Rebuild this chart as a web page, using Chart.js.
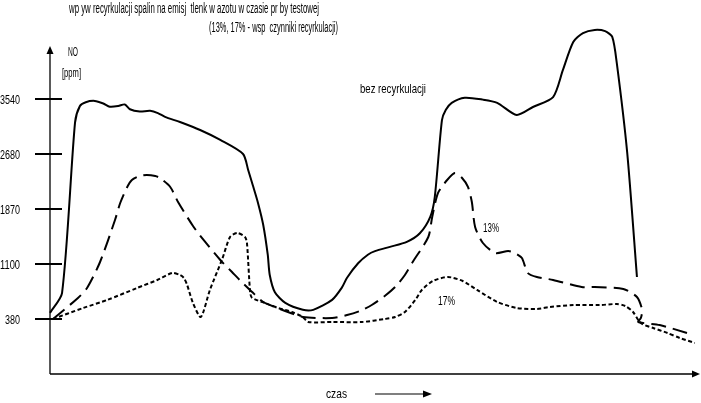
<!DOCTYPE html>
<html>
<head>
<meta charset="utf-8">
<script src="https://cdn.jsdelivr.net/npm/chart.js@4"></script>
<style>
  body { margin: 0; background: #fff; }
  #wrap { width: 701px; height: 403px; position: relative; }
</style>
</head>
<body>
<div id="wrap"><canvas id="noChart"></canvas></div>
<script>
// y axis ticks (NO, ppm) - evenly spaced on the sheet although values are not
const yTickValues = [380, 1100, 1870, 2680, 3540];
const yTickLabels = ['380', '1100', '1870', '2680', '3540'];

// "bez recyrkulacji" (no recirculation)
const timeNone = [0, 1.85, 3.85, 4.6, 5.5, 6.9, 8.2, 9.2, 10.5, 11.5, 12.3, 13.8, 15.4, 16.6, 17.7, 20, 23.1, 26.2, 29.7, 30.5, 31.2, 32, 32.8, 33.5, 33.8, 34.6, 36.2, 38.9, 40.5, 43.4, 44.9, 45.7, 47.4, 48.9, 50, 52.3, 54.9, 56.9, 58.5, 59.2, 60.3, 60.9, 61.8, 63.8, 66.6, 68.8, 71.8, 74.3, 77.4, 78.9, 80.5, 82, 83.8, 85.4, 86.5, 87.2, 88.8, 90.3];
const noNone = [460, 720, 3170, 3430, 3490, 3510, 3470, 3420, 3430, 3455, 3380, 3345, 3355, 3320, 3260, 3180, 3055, 2900, 2680, 2440, 2220, 1960, 1650, 1230, 960, 730, 590, 500, 500, 630, 790, 920, 1110, 1230, 1280, 1340, 1410, 1530, 1760, 2050, 3210, 3370, 3480, 3560, 3530, 3480, 3290, 3415, 3570, 3990, 4430, 4570, 4620, 4600, 4510, 4100, 2700, 930];

// 13% recirculation
const time13 = [0.46, 4.3, 5.7, 7.7, 10, 10.8, 11.8, 12.6, 13.8, 14.9, 16.2, 16.9, 18.5, 19.7, 22, 23.5, 26.2, 28, 29.2, 31.1, 32.8, 34.6, 36.6, 38.9, 43.4, 45.7, 47.7, 49.5, 51.5, 53.1, 54.6, 55.8, 58.2, 58.8, 59.7, 61.1, 62.3, 63.4, 64.3, 64.9, 65.4, 66.6, 68.5, 70.5, 71.5, 72.6, 73.5, 74.9, 77.4, 81.8, 83.8, 88.2, 90.3, 91.1, 90.9, 90.5, 93.8, 98];
const no13 = [380, 655, 786, 1128, 1716, 1958, 2179, 2297, 2356, 2371, 2356, 2327, 2194, 1973, 1632, 1450, 1156, 995, 890, 733, 603, 537, 472, 406, 393, 432, 485, 563, 681, 799, 956, 1128, 1478, 1758, 2106, 2297, 2400, 2327, 2194, 1973, 1618, 1394, 1254, 1282, 1254, 1184, 982, 930, 891, 799, 799, 773, 668, 498, 393, 341, 301, 197];

// 17% recirculation
const time17 = [0.46, 5.1, 8.8, 13.4, 16.5, 18.8, 20, 20.6, 21.1, 22, 23.2, 24.6, 26.5, 27.7, 28.8, 30, 30.3, 30.8, 31.1, 33.1, 35.1, 37.2, 38.9, 39.7, 43.4, 48, 51.5, 53.1, 54.6, 56.2, 57.2, 58.9, 61.2, 63.5, 65.7, 68.8, 71.8, 74.9, 76.9, 80.5, 84.6, 87.2, 88.5, 89.7, 90.5, 91.1, 92.8, 95, 96.9, 99.2];
const no17 = [380, 524, 629, 786, 890, 982, 956, 917, 825, 589, 406, 760, 1170, 1478, 1534, 1478, 1394, 720, 655, 589, 524, 472, 406, 341, 341, 341, 380, 406, 472, 629, 760, 877, 930, 877, 760, 603, 524, 511, 537, 563, 563, 576, 550, 472, 367, 315, 262, 197, 131, 66];

// position of a ppm value on the evenly spaced tick grid
function toLevel(v) {
  const t = yTickValues;
  if (v <= t[1]) return (v - t[0]) / (t[1] - t[0]);
  for (let i = 1; i < t.length - 1; i++) {
    if (v <= t[i + 1]) return i + (v - t[i]) / (t[i + 1] - t[i]);
  }
  const n = t.length - 1;
  return n + (v - t[n]) / (t[n] - t[n - 1]);
}

function toPoints(xs, ys) {
  return xs.map((x, i) => ({ x: x, y: toLevel(ys[i]) }));
}

// draws text squeezed horizontally into a given width (narrow font look)
function squeezeText(ctx, text, x, y, w, align) {
  const natural = ctx.measureText(text).width;
  ctx.save();
  ctx.translate(x, y);
  ctx.scale(w / natural, 1);
  ctx.textAlign = align;
  ctx.fillText(text, 0, 0);
  ctx.restore();
}

const axesPlugin = {
  id: 'sketchAxes',
  afterDraw(chart) {
    const ctx = chart.ctx;
    const { left, right, top, bottom } = chart.chartArea;
    const yScale = chart.scales.y;
    ctx.save();
    ctx.strokeStyle = '#000';
    ctx.fillStyle = '#000';

    // y axis with arrow
    ctx.lineWidth = 1.3;
    ctx.beginPath();
    ctx.moveTo(left, bottom);
    ctx.lineTo(left, top + 5);
    ctx.stroke();
    ctx.beginPath();
    ctx.moveTo(left, top - 2);
    ctx.lineTo(left - 3.5, top + 6);
    ctx.lineTo(left + 3.5, top + 6);
    ctx.closePath();
    ctx.fill();

    // x axis with arrow
    ctx.beginPath();
    ctx.moveTo(left, bottom);
    ctx.lineTo(right - 6, bottom);
    ctx.stroke();
    ctx.beginPath();
    ctx.moveTo(right, bottom);
    ctx.lineTo(right - 8, bottom - 3.5);
    ctx.lineTo(right - 8, bottom + 3.5);
    ctx.closePath();
    ctx.fill();

    // tick marks and labels
    ctx.font = '13px "Liberation Sans", Arial, sans-serif';
    ctx.textBaseline = 'middle';
    yTickValues.forEach((v, i) => {
      const py = yScale.getPixelForValue(i);
      ctx.lineWidth = 2;
      ctx.beginPath();
      ctx.moveTo(left - 15, py);
      ctx.lineTo(left + 12, py);
      ctx.stroke();
      const lbl = yTickLabels[i];
      squeezeText(ctx, lbl, 20, py + 1, lbl.length * 5, 'right');
    });

    // axis titles
    squeezeText(ctx, 'NO', 68, 52, 10, 'left');
    squeezeText(ctx, '[ppm]', 62, 73, 19, 'left');
    squeezeText(ctx, 'czas', 326, 394, 21, 'left');
    ctx.lineWidth = 1.2;
    ctx.beginPath();
    ctx.moveTo(375, 394);
    ctx.lineTo(425, 394);
    ctx.stroke();
    ctx.beginPath();
    ctx.moveTo(432, 394);
    ctx.lineTo(423, 390.5);
    ctx.lineTo(423, 397.5);
    ctx.closePath();
    ctx.fill();

    // series labels
    squeezeText(ctx, 'bez recyrkulacji', 360, 89, 66, 'left');
    squeezeText(ctx, '13%', 483, 228, 16, 'left');
    squeezeText(ctx, '17%', 438, 301, 17, 'left');

    // title
    ctx.font = '14px "Liberation Sans", Arial, sans-serif';
    squeezeText(ctx, 'wp yw recyrkulacji spalin na emisj  tlenk w azotu w czasie pr by testowej', 69, 9, 250, 'left');
    squeezeText(ctx, '(13%, 17% - wsp  czynniki recyrkulacji)', 209, 28, 129, 'left');
    ctx.restore();
  }
};

const lineBase = {
  borderColor: '#000',
  borderWidth: 2,
  pointRadius: 0,
  tension: 0.25,
  fill: false,
  clip: false
};

new Chart(document.getElementById('noChart'), {
  type: 'line',
  data: {
    datasets: [
      Object.assign({ label: 'bez recyrkulacji', data: toPoints(timeNone, noNone) }, lineBase),
      Object.assign({ label: '13%', data: toPoints(time13, no13), borderDash: [15, 7] }, lineBase),
      Object.assign({ label: '17%', data: toPoints(time17, no17), borderDash: [4, 2.5] }, lineBase)
    ]
  },
  options: {
    responsive: true,
    maintainAspectRatio: false,
    animation: false,
    layout: { padding: { left: 50, right: 1, top: 48, bottom: 29 } },
    plugins: {
      legend: { display: false },
      tooltip: { enabled: false }
    },
    scales: {
      x: { type: 'linear', min: 0, max: 100, display: false },
      y: { type: 'linear', min: -1, max: 4.927, display: false }
    }
  },
  plugins: [axesPlugin]
});
</script>
</body>
</html>
